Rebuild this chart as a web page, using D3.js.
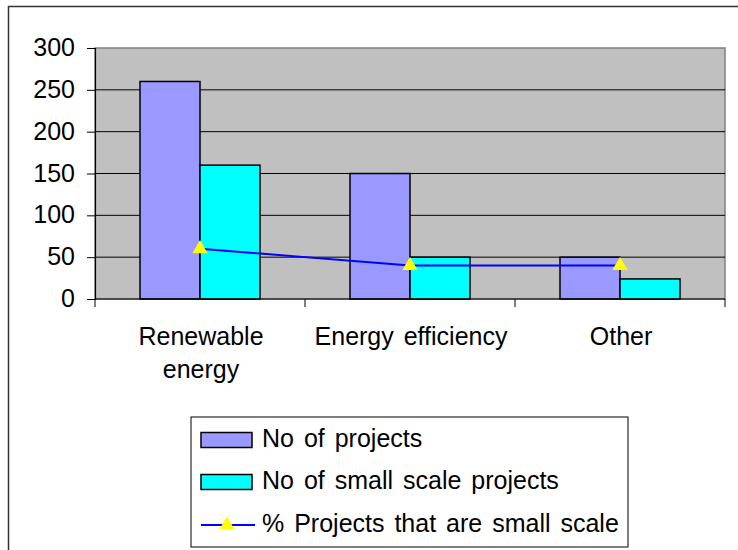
<!DOCTYPE html>
<html><head><meta charset="utf-8">
<script src="https://cdn.jsdelivr.net/npm/d3@7"></script>
<style>body{margin:0;background:#fff}svg{display:block}text{font-family:"Liberation Sans",Arial,sans-serif;fill:#000;word-spacing:3px}</style>
</head><body>
<script>
const categories = [["Renewable","energy"],["Energy efficiency"],["Other"]];
const seriesNames = ["No of projects","No of small scale projects","% Projects that are small scale"];
const noProjects = [260,150,50];
const noSmall = [160,50,24];
const pctSmall = [60,40,40];
const yTicks = [0,50,100,150,200,250,300];

const W=738,H=550;
const svg=d3.select("body").append("svg").attr("width",W).attr("height",H);
const fs=25;
// outer frame
svg.append("path").attr("d","M8.5,560V6.5H760").attr("fill","none").attr("stroke","#333").attr("stroke-width",1.5);

const L=95,R=725,T=48,B=299;
const x=d3.scaleBand().domain(d3.range(categories.length)).range([L,R]);
const xs=d3.scaleBand().domain([0,1]).range([0,x.bandwidth()]).paddingInner(0).paddingOuter(0.75);
const y=d3.scaleLinear().domain([0,300]).range([B,T]);

svg.append("rect").attr("x",L).attr("y",T).attr("width",R-L).attr("height",B-T).attr("fill","#C0C0C0").attr("stroke","#808080").attr("stroke-width",1.5);
svg.append("g").selectAll("line").data(yTicks.filter(d=>d>0&&d<300)).join("line")
 .attr("x1",L).attr("x2",R).attr("y1",d=>y(d)).attr("y2",d=>y(d)).attr("stroke","#000").attr("stroke-width",1);

// y axis
const ya=svg.append("g").attr("transform",`translate(${L},0)`).call(d3.axisLeft(y).tickValues(yTicks).tickSize(8).tickPadding(12));
ya.select(".domain").attr("stroke","#000").attr("stroke-width",1.2);
ya.selectAll(".tick line").attr("stroke","#000");
ya.selectAll("text").attr("font-size",fs).attr("font-family","Liberation Sans, Arial, sans-serif").attr("dy","0.3em");

// bars
const colors=["#9999FF","#00FFFF"];
[noProjects,noSmall].forEach((vals,si)=>{
 svg.append("g").selectAll("rect").data(vals).join("rect")
  .attr("x",(d,i)=>x(i)+xs(si)).attr("width",xs.bandwidth())
  .attr("y",d=>y(d)).attr("height",d=>B-y(d))
  .attr("fill",colors[si]).attr("stroke","#000").attr("stroke-width",1.5);
});

// x axis
svg.append("line").attr("x1",L).attr("x2",R).attr("y1",B).attr("y2",B).attr("stroke","#000").attr("stroke-width",1.2);
const bounds=d3.range(categories.length+1).map(i=>L+i*x.step());
svg.append("g").selectAll("line").data(bounds).join("line")
 .attr("x1",d=>d).attr("x2",d=>d).attr("y1",B).attr("y2",B+8).attr("stroke","#000");
const xl=svg.append("g").selectAll("text").data(categories).join("text")
 .attr("text-anchor","middle").attr("font-size",fs)
 .attr("transform",(d,i)=>`translate(${x(i)+x.bandwidth()/2+1},345)`);
xl.selectAll("tspan").data(d=>d).join("tspan").attr("x",0).attr("dy",(d,i)=>i?33:0).text(d=>d);

// line series
const line=d3.line().x((d,i)=>x(i)+x.bandwidth()/2).y(d=>y(d));
svg.append("path").datum(pctSmall).attr("d",line).attr("fill","none").attr("stroke","#0000FF").attr("stroke-width",2);
const tri=d3.symbol().type(d3.symbolTriangle).size(100);
svg.append("g").selectAll("path").data(pctSmall).join("path")
 .attr("d",tri).attr("transform",(d,i)=>`translate(${x(i)+x.bandwidth()/2},${y(d)})`).attr("fill","#FFFF00");

// legend
const lg=svg.append("g");
lg.append("rect").attr("x",191).attr("y",417).attr("width",437).attr("height",130).attr("fill","#fff").attr("stroke","#000").attr("stroke-width",1);
const rows=[440,482,525];
[0,1].forEach(i=>{
 lg.append("rect").attr("x",201).attr("y",rows[i]-7.5).attr("width",51).attr("height",15).attr("fill",colors[i]).attr("stroke","#000").attr("stroke-width",1.5);
});
lg.append("line").attr("x1",201).attr("x2",255).attr("y1",rows[2]).attr("y2",rows[2]).attr("stroke","#0000FF").attr("stroke-width",2);
lg.append("path").attr("d",tri).attr("transform",`translate(227,${rows[2]})`).attr("fill","#FFFF00");
lg.selectAll("text.l").data(seriesNames).join("text").attr("class","l")
 .attr("x",262).attr("y",(d,i)=>rows[i]+7).attr("font-size",fs).text(d=>d);
</script>
</body></html>
